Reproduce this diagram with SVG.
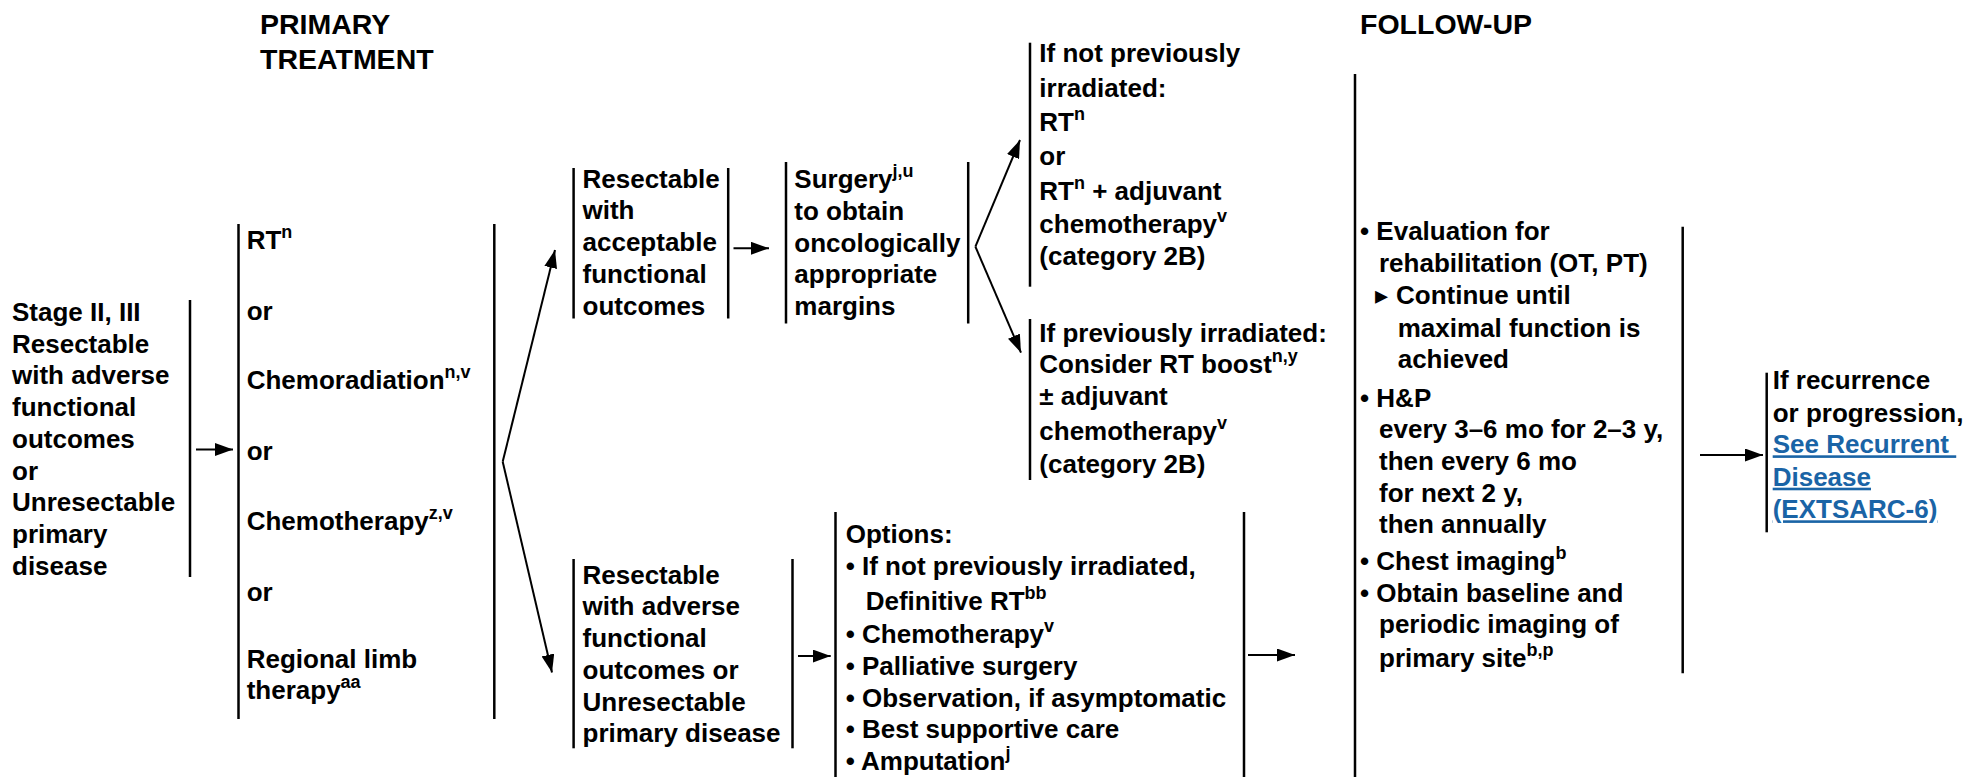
<svg xmlns="http://www.w3.org/2000/svg" width="1969" height="777" viewBox="0 0 1969 777">
<style>
.t{font-family:"Liberation Sans",Arial,Helvetica,sans-serif;font-weight:bold;font-size:26px;fill:#000}
.h{font-size:28.5px}
.s{font-size:18px}
.tri{font-family:"DejaVu Sans",sans-serif;font-size:26px}
.bar{stroke:#000;stroke-width:2.5;fill:none}
.conn{stroke:#000;stroke-width:2;fill:none;marker-end:url(#ah)}
.link{fill:#1a64a6;text-decoration:underline}
</style>
<defs>
<marker id="ah" markerUnits="userSpaceOnUse" markerWidth="18" markerHeight="13" refX="18" refY="6.5" orient="auto">
<path d="M0,0 L18,6.5 L0,13 z" fill="#000"/>
</marker>
</defs>
<rect x="0" y="0" width="1969" height="777" fill="#fff"/>

<g id="header-primary" class="t h">
<text x="260" y="34">PRIMARY</text>
<text x="260" y="69">TREATMENT</text>
</g>
<g id="header-followup" class="t h">
<text x="1360" y="34">FOLLOW-UP</text>
</g>

<g id="stage" class="t">
<text x="12" y="321">Stage II, III</text>
<text x="12" y="352.5">Resectable</text>
<text x="12" y="384.3">with adverse</text>
<text x="12" y="416">functional</text>
<text x="12" y="447.8">outcomes</text>
<text x="12" y="479.5">or</text>
<text x="12" y="511.3">Unresectable</text>
<text x="12" y="543">primary</text>
<text x="12" y="574.8">disease</text>
<line class="bar" x1="190" y1="300" x2="190" y2="577"/>
</g>

<g id="primary" class="t">
<line class="bar" x1="238.5" y1="224" x2="238.5" y2="719"/>
<line class="bar" x1="494.3" y1="224" x2="494.3" y2="719"/>
<text x="246.7" y="249">RT<tspan class="s" dy="-11">n</tspan></text>
<text x="246.7" y="320">or</text>
<text x="246.7" y="389">Chemoradiation<tspan class="s" dy="-11">n,v</tspan></text>
<text x="246.7" y="460">or</text>
<text x="246.7" y="530">Chemotherapy<tspan class="s" dy="-11">z,v</tspan></text>
<text x="246.7" y="601">or</text>
<text x="246.7" y="668">Regional limb</text>
<text x="246.7" y="699">therapy<tspan class="s" dy="-11">aa</tspan></text>
</g>

<g id="resect-accept" class="t">
<line class="bar" x1="573.6" y1="168" x2="573.6" y2="318.5"/>
<line class="bar" x1="728.2" y1="168" x2="728.2" y2="318.5"/>
<text x="582.5" y="187.5">Resectable</text>
<text x="582.5" y="219.2">with</text>
<text x="582.5" y="251">acceptable</text>
<text x="582.5" y="282.7">functional</text>
<text x="582.5" y="314.5">outcomes</text>
</g>

<g id="surgery" class="t">
<line class="bar" x1="786" y1="162" x2="786" y2="323.5"/>
<line class="bar" x1="968.2" y1="162" x2="968.2" y2="323.5"/>
<text x="794.3" y="188">Surgery<tspan class="s" dy="-11">j,u</tspan></text>
<text x="794.3" y="220">to obtain</text>
<text x="794.3" y="251.7">oncologically</text>
<text x="794.3" y="283.3">appropriate</text>
<text x="794.3" y="315">margins</text>
</g>

<g id="not-irradiated" class="t">
<line class="bar" x1="1030" y1="42.7" x2="1030" y2="286.7"/>
<text x="1039.3" y="61.5">If not previously</text>
<text x="1039.3" y="96.5">irradiated:</text>
<text x="1039.3" y="131">RT<tspan class="s" dy="-11">n</tspan></text>
<text x="1039.3" y="165">or</text>
<text x="1039.3" y="199.5">RT<tspan class="s" dy="-11">n</tspan><tspan dy="11"> + adjuvant</tspan></text>
<text x="1039.3" y="233">chemotherapy<tspan class="s" dy="-11">v</tspan></text>
<text x="1039.3" y="265">(category 2B)</text>
</g>

<g id="prev-irradiated" class="t">
<line class="bar" x1="1030" y1="319" x2="1030" y2="480"/>
<text x="1039.3" y="341.7">If previously irradiated:</text>
<text x="1039.3" y="373.3">Consider RT boost<tspan class="s" dy="-11">n,y</tspan></text>
<text x="1039.3" y="405">± adjuvant</text>
<text x="1039.3" y="440">chemotherapy<tspan class="s" dy="-11">v</tspan></text>
<text x="1039.3" y="473.3">(category 2B)</text>
</g>

<g id="resect-adverse" class="t">
<line class="bar" x1="573.6" y1="559" x2="573.6" y2="748.3"/>
<line class="bar" x1="792.5" y1="559" x2="792.5" y2="748.3"/>
<text x="582.5" y="583.5">Resectable</text>
<text x="582.5" y="615.3">with adverse</text>
<text x="582.5" y="647">functional</text>
<text x="582.5" y="678.8">outcomes or</text>
<text x="582.5" y="710.5">Unresectable</text>
<text x="582.5" y="742.3">primary disease</text>
</g>

<g id="options" class="t">
<line class="bar" x1="835.5" y1="512" x2="835.5" y2="777"/>
<line class="bar" x1="1244" y1="512" x2="1244" y2="777"/>
<text x="845.7" y="543.3">Options:</text>
<text x="845.7" y="575">• If not previously irradiated,</text>
<text x="865.7" y="610">Definitive RT<tspan class="s" dy="-11">bb</tspan></text>
<text x="845.7" y="643.3">• Chemotherapy<tspan class="s" dy="-11">v</tspan></text>
<text x="845.7" y="675">• Palliative surgery</text>
<text x="845.7" y="706.7">• Observation, if asymptomatic</text>
<text x="845.7" y="738.3">• Best supportive care</text>
<text x="845.7" y="770">• Amputation<tspan class="s" dy="-11">j</tspan></text>
</g>

<g id="followup" class="t">
<line class="bar" x1="1355" y1="74" x2="1355" y2="777"/>
<line class="bar" x1="1682.7" y1="226.7" x2="1682.7" y2="673.3"/>
<text x="1360" y="240">• Evaluation for</text>
<text x="1379" y="271.7">rehabilitation (OT, PT)</text>
<text x="1375" y="304"><tspan class="tri">▸</tspan><tspan x="1396">Continue until</tspan></text>
<text x="1397.7" y="336.7">maximal function is</text>
<text x="1397.7" y="368.3">achieved</text>
<text x="1360" y="406.7">• H&amp;P</text>
<text x="1379" y="438.3">every 3–6 mo for 2–3 y,</text>
<text x="1379" y="470">then every 6 mo</text>
<text x="1379" y="501.7">for next 2 y,</text>
<text x="1379" y="533.3">then annually</text>
<text x="1360" y="570">• Chest imaging<tspan class="s" dy="-11">b</tspan></text>
<text x="1360" y="601.7">• Obtain baseline and</text>
<text x="1379" y="633.3">periodic imaging of</text>
<text x="1379" y="666.7">primary site<tspan class="s" dy="-11">b,p</tspan></text>
</g>

<g id="recurrence" class="t">
<line class="bar" x1="1766.7" y1="372.7" x2="1766.7" y2="532.3"/>
<text x="1772.7" y="389.3">If recurrence</text>
<text x="1772.7" y="421.7">or progression,</text>
<text x="1772.7" y="453.3" class="link">See Recurrent&#160;</text>
<text x="1772.7" y="485.7" class="link">Disease</text>
<text x="1772.7" y="518.3" class="link">(EXTSARC-6)</text>
</g>

<g id="connectors">
<path class="conn" d="M196,449.5 L233,449.5"/>
<path class="conn" d="M502.7,461.7 L555,250"/>
<path class="conn" d="M502.7,461.7 L552,672.5"/>
<path class="conn" d="M733.5,248.3 L769,248.3"/>
<path class="conn" d="M975.4,246.7 L1020,140"/>
<path class="conn" d="M975.4,246.7 L1021,352.7"/>
<path class="conn" d="M798,656 L830.7,656"/>
<path class="conn" d="M1248,655 L1295,655"/>
<path class="conn" d="M1700,455 L1763,455"/>
</g>
</svg>
